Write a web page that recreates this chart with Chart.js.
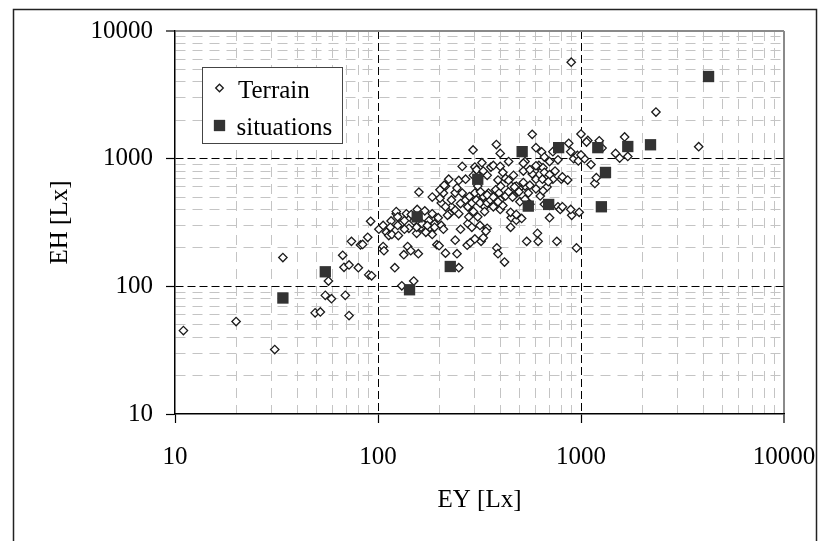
<!DOCTYPE html>
<html><head><meta charset="utf-8">
<script src="https://cdn.jsdelivr.net/npm/chart.js@4/dist/chart.umd.min.js"></script>
<style>
html,body{margin:0;padding:0;background:#fff;}
#wrap{position:relative;width:818px;height:541px;overflow:hidden;background:#fff;}
canvas{position:absolute;left:0;top:0;}
</style></head><body>
<div id="wrap"><canvas id="c" width="818" height="541"></canvas></div>
<script>
// ---- data ----
const terrainEY = [
  11,20,31,34,49,52,55,57,59,67,
  68,69,72,72,74,80,82,84,89,90,
  93,92,101,106,106,107,110,113,117,116,
  123,123,125,126,121,134,131,138,140,142,
  145,150,155,158,159,156,163,165,170,172,
  185,185,195,200,205,215,215,223,225,230,
  240,240,245,250,255,250,260,270,277,275,
  280,294,300,310,318,322,325,335,345,360,
  370,380,383,385,390,400,400,400,412,420,
  425,440,440,453,450,480,500,510,520,530,
  540,575,590,600,600,610,615,620,630,640,
  650,660,670,680,700,700,727,760,770,770,
  790,800,870,890,895,900,920,950,960,970,
  1000,1040,1080,1120,1170,1190,1230,1270,1480,1550,
  1640,1700,2340,3800,202,210,215,220,230,240,
  245,255,250,260,270,277,280,282,290,295,
  300,305,310,318,330,335,345,350,357,370,
  380,395,400,412,425,440,465,480,495,530,
  550,575,646,660,727,745,178,180,185,190,
  198,205,130,135,146,150,155,295,310,330,
  402,453,465,306,202,212,810,860,700,690,
  520,560,600,470,520,560,600,650,345,390,
  330,320,345,370,390,460,530,560,660,810,
  890,980,450,480,510,285,300,330,340,290,
  115,125,135,175,190,210,1000,1065
];
const terrainEH = [
  45,53,32,168,62,63,85,110,80,175,
  141,85,147,59,225,140,211,213,242,123,
  121,323,280,300,205,190,265,250,255,325,
  370,385,350,250,140,177,101,370,205,285,
  190,110,260,180,547,400,290,310,390,265,
  370,500,212,208,450,182,610,690,370,420,
  540,230,180,140,280,675,870,690,310,210,
  420,1170,860,610,300,225,930,420,285,860,
  885,570,1290,200,180,1100,870,400,780,155,
  700,675,950,345,290,330,460,610,800,950,
  225,1550,800,690,1220,260,225,885,510,1130,
  850,1030,730,600,345,950,1135,225,980,420,
  400,690,1320,1135,5700,360,1000,200,1060,960,
  1560,1000,1390,900,640,710,1380,1210,1100,1010,
  1480,1040,2320,1240,490,538,420,360,475,395,
  590,445,370,538,475,420,350,505,450,385,
  538,475,350,450,505,385,450,538,475,420,
  490,538,475,430,510,550,510,610,550,610,
  538,760,690,781,690,800,327,289,255,308,
  345,300,310,327,365,325,290,740,690,781,
  609,609,740,820,570,620,720,680,750,660,
  920,820,880,600,650,620,580,560,740,680,
  800,550,520,500,460,500,480,440,440,420,
  400,380,380,365,340,220,235,240,270,290,
  290,300,280,300,290,280,1070,1350
];
const situationsEY = [34,55,143,156,227,310,513,550,693,776,1210,1260,1320,1700,2200,4250];
const situationsEH = [81,130,94,350,143,690,1135,425,438,1220,1220,420,780,1245,1285,4400];
const seriesNames = ['Terrain','situations'];
const labelledTicks = [10,100,1000,10000];
const decadeStarts = [10,100,1000];
const xTitle = 'EY [Lx]';
const yTitle = 'EH [Lx]';

// ---- helpers ----
function allTicks(){
  const t = [];
  decadeStarts.forEach(d => { for (let m = 1; m < 10; m++) t.push(m*d); });
  t.push(10000);
  return t;
}
const isMajorLine = v => v === 100 || v === 1000;
const FONT = {family:"'Liberation Serif','Times New Roman',serif", size:25};

function gridOpts(){
  return {
    drawOnChartArea:true, drawTicks:true, tickLength:9, tickWidth:1.2,
    color: c => { const v = c.tick && c.tick.value;
      if (v === 10000) return '#8a8a8a';
      if (v === 10) return 'rgba(0,0,0,0)';
      if (isMajorLine(v)) return '#000';
      return '#c4c4c4'; },
    lineWidth: c => (c.tick && c.tick.value === 10000) ? 2 : 1,
    tickColor: c => (c.tick && labelledTicks.includes(c.tick.value)) ? '#000' : 'rgba(0,0,0,0)'
  };
}
function borderOpts(){
  return {display:true, color:'#000', width:1.5,
    dash: c => { const v = c.tick && c.tick.value;
      if (v === undefined || v === 10 || v === 10000) return [];
      return isMajorLine(v) ? [8,4] : [10,7]; }};
}
const tickCb = v => labelledTicks.includes(Number(v)) ? String(v) : '';

const framePlugin = {
  id:'frame',
  beforeDraw(chart){
    const ctx = chart.ctx; ctx.save();
    ctx.fillStyle = '#fff'; ctx.fillRect(0,0,chart.width,chart.height);
    ctx.strokeStyle = '#222'; ctx.lineWidth = 1.5;
    ctx.strokeRect(13.5, 9.5, 803, 560);
    ctx.restore();
  }
};
const legendPlugin = {
  id:'boxLegend',
  afterDraw(chart){
    const ctx = chart.ctx; ctx.save();
    ctx.fillStyle = '#fff'; ctx.fillRect(202.5,67.5,140,76);
    ctx.strokeStyle = '#444'; ctx.lineWidth = 1; ctx.strokeRect(202.5,67.5,140,76);
    ctx.fillStyle = '#fff'; ctx.strokeStyle = '#1a1a1a'; ctx.lineWidth = 1.3;
    Chart.helpers.drawPoint(ctx, {pointStyle:'rectRot', radius:3.8, borderWidth:1.3, rotation:0}, 219.5, 88);
    ctx.fillStyle = '#333'; ctx.strokeStyle = '#333'; ctx.lineWidth = 0;
    Chart.helpers.drawPoint(ctx, {pointStyle:'rect', radius:8, borderWidth:0, rotation:0}, 219.5, 125.5);
    ctx.fillStyle = '#000';
    ctx.font = "25px 'Liberation Serif','Times New Roman',serif";
    ctx.textBaseline = 'alphabetic'; ctx.textAlign = 'left';
    ctx.fillText(seriesNames[0], 238, 98);
    ctx.fillText(seriesNames[1], 236.5, 135);
    ctx.restore();
  }
};

new Chart(document.getElementById('c').getContext('2d'), {
  type:'scatter',
  data:{datasets:[
    {label:seriesNames[1], data:situationsEY.map((x,i)=>({x, y:situationsEH[i]})),
     pointStyle:'rect', pointRadius:8, backgroundColor:'#333', borderColor:'#333', borderWidth:0, order:0},
    {label:seriesNames[0], data:terrainEY.map((x,i)=>({x, y:terrainEH[i]})),
     pointStyle:'rectRot', pointRadius:4.2, backgroundColor:'#fff', borderColor:'#1a1a1a', borderWidth:1.3, order:1}
  ]},
  options:{
    responsive:false, animation:false, events:[],
    layout:{padding:{left:0, top:31, right:34, bottom:0}},
    plugins:{legend:{display:false}, tooltip:{enabled:false}},
    scales:{
      x:{type:'logarithmic', min:10, max:10000,
         afterBuildTicks: s => { s.ticks = allTicks().map(v => ({value:v})); },
         afterFit: s => { s.height = 127; s.paddingLeft = 0; s.paddingRight = 0; },
         ticks:{autoSkip:false, maxRotation:0, padding:19, color:'#000', font:FONT, callback:tickCb},
         grid:gridOpts(), border:borderOpts(),
         title:{display:true, text:xTitle, color:'#000', font:FONT, padding:{top:0, bottom:26}}},
      y:{type:'logarithmic', min:10, max:10000,
         afterBuildTicks: s => { s.ticks = allTicks().map(v => ({value:v})); },
         afterFit: s => { s.width = 175; s.paddingTop = 0; s.paddingBottom = 0; },
         ticks:{autoSkip:false, padding:13, color:'#000', font:FONT, callback:tickCb},
         grid:gridOpts(), border:borderOpts(),
         title:{display:true, text:yTitle, color:'#000', font:FONT, padding:{top:45, bottom:0}}}
    }
  },
  plugins:[framePlugin, legendPlugin]
});
</script>
</body></html>
